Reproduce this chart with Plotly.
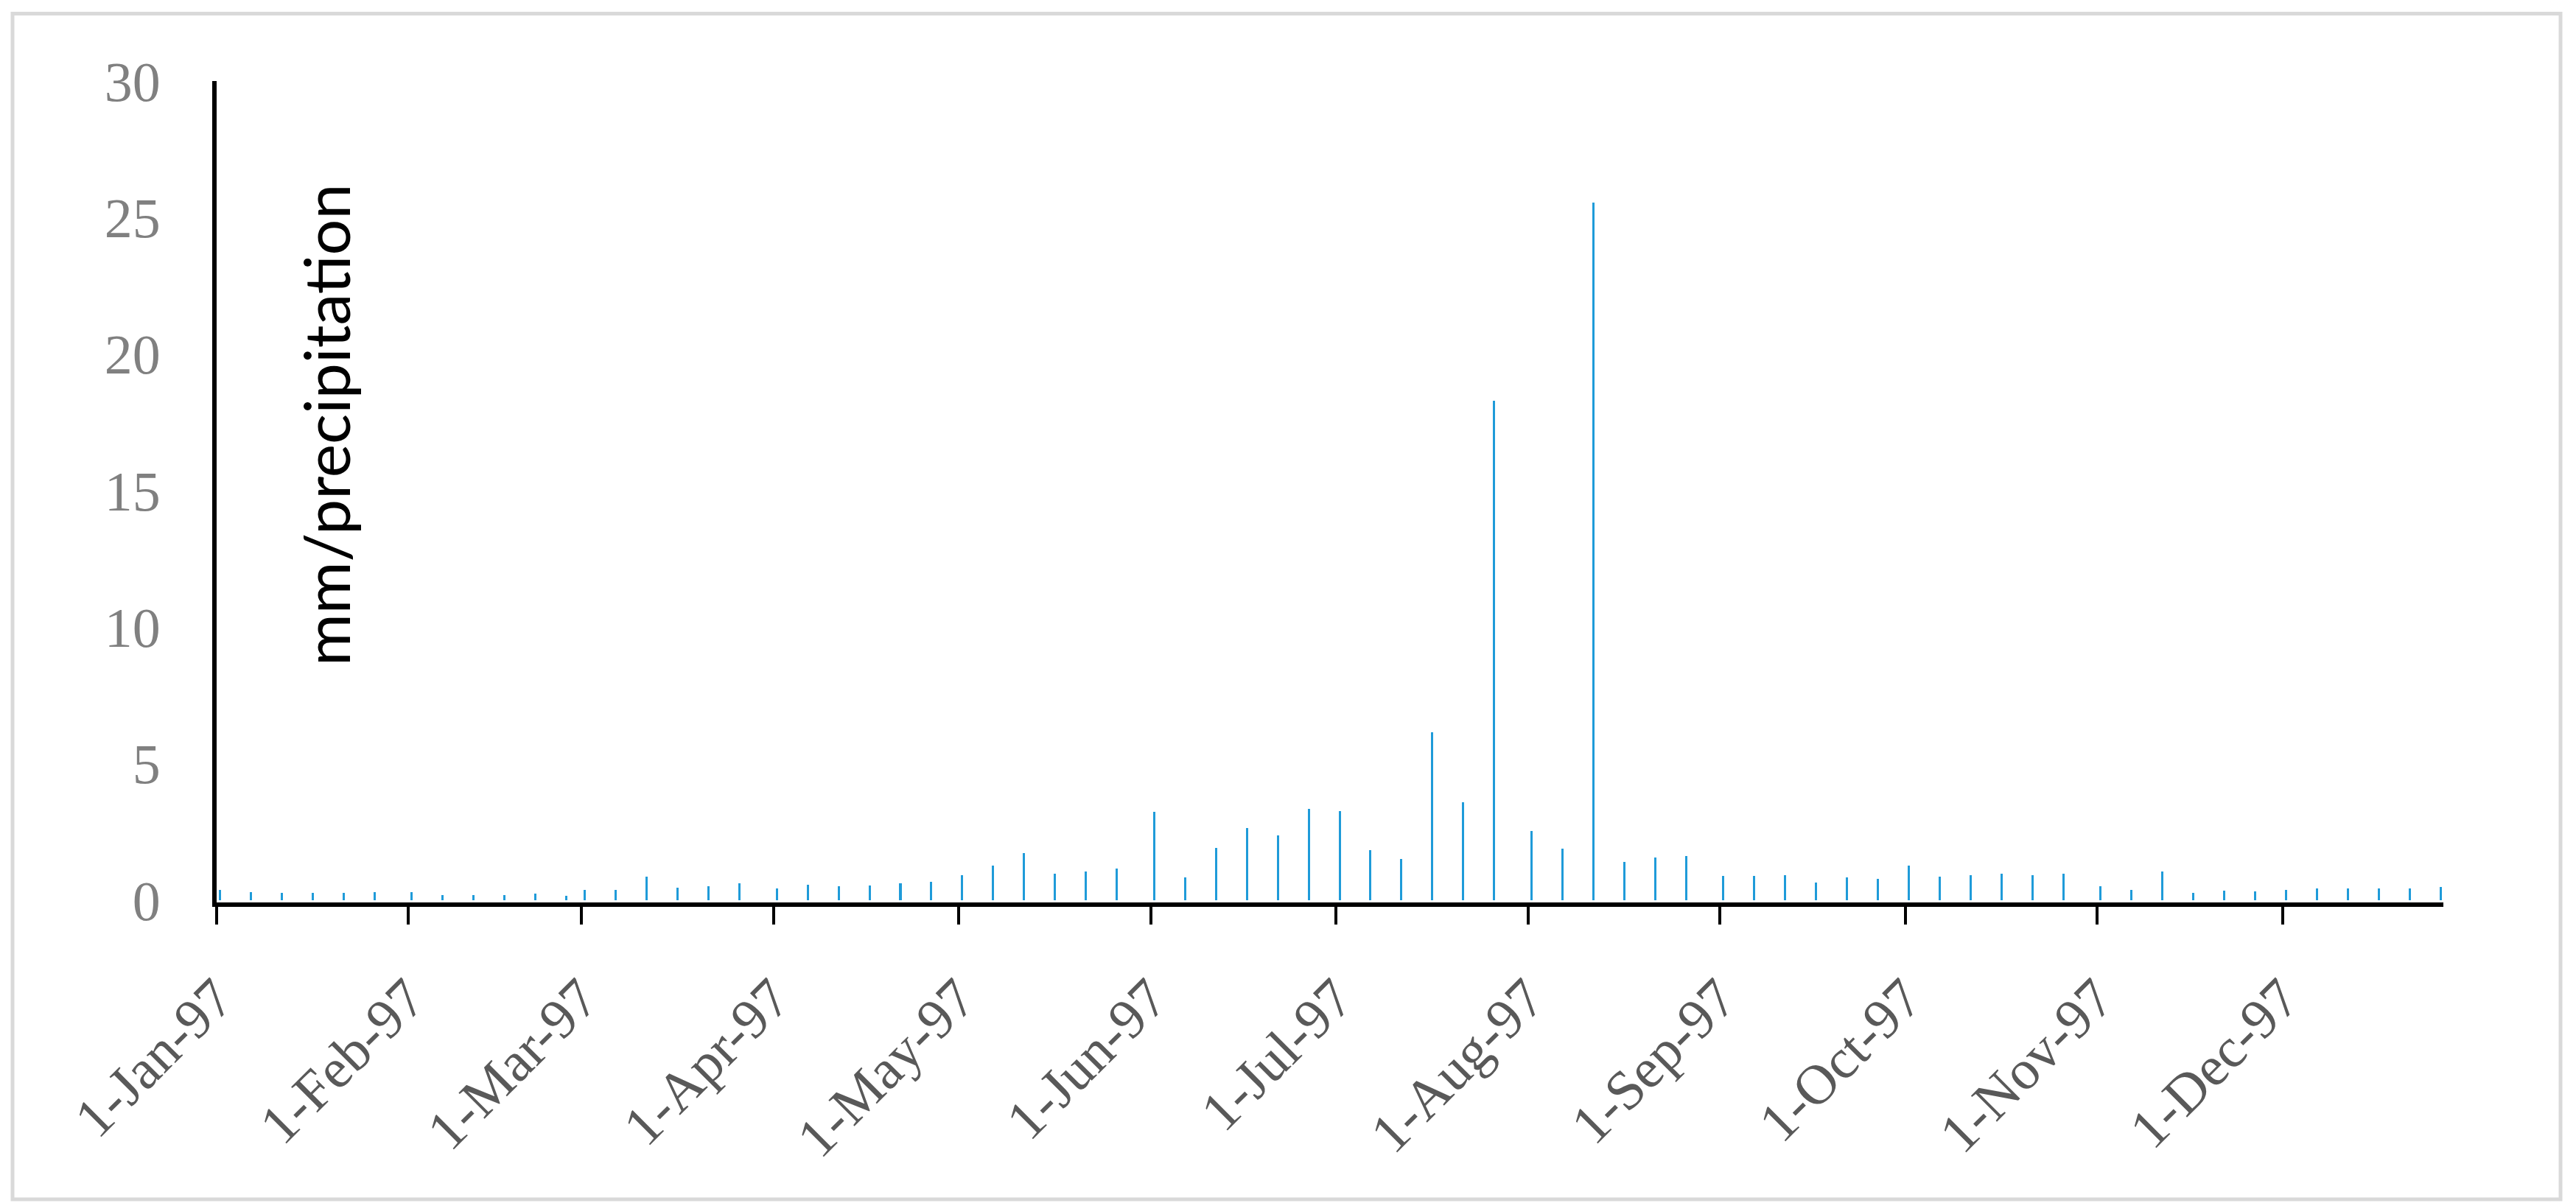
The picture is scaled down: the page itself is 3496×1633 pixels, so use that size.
import plotly.graph_objects as go

dates = [
    "1997-01-01", "1997-01-06", "1997-01-11", "1997-01-16", "1997-01-21", "1997-01-26",
    "1997-02-01", "1997-02-06", "1997-02-11", "1997-02-16", "1997-02-21", "1997-02-26",
    "1997-03-01", "1997-03-06", "1997-03-11", "1997-03-16", "1997-03-21", "1997-03-26",
    "1997-04-01", "1997-04-06", "1997-04-11", "1997-04-16", "1997-04-21", "1997-04-26",
    "1997-05-01", "1997-05-06", "1997-05-11", "1997-05-16", "1997-05-21", "1997-05-26",
    "1997-06-01", "1997-06-06", "1997-06-11", "1997-06-16", "1997-06-21", "1997-06-26",
    "1997-07-01", "1997-07-06", "1997-07-11", "1997-07-16", "1997-07-21", "1997-07-26",
    "1997-08-01", "1997-08-06", "1997-08-11", "1997-08-16", "1997-08-21", "1997-08-26",
    "1997-09-01", "1997-09-06", "1997-09-11", "1997-09-16", "1997-09-21", "1997-09-26",
    "1997-10-01", "1997-10-06", "1997-10-11", "1997-10-16", "1997-10-21", "1997-10-26",
    "1997-11-01", "1997-11-06", "1997-11-11", "1997-11-16", "1997-11-21", "1997-11-26",
    "1997-12-01", "1997-12-06", "1997-12-11", "1997-12-16", "1997-12-21", "1997-12-26",
]

precip_mm = [
    0.37, 0.30, 0.27, 0.27, 0.27, 0.30,
    0.29, 0.19, 0.19, 0.19, 0.24, 0.16,
    0.37, 0.39, 0.86, 0.45, 0.51, 0.62,
    0.43, 0.56, 0.50, 0.54, 0.62, 0.67,
    0.91, 1.26, 1.74, 0.98, 1.04, 1.15,
    3.24, 0.83, 1.92, 2.65, 2.38, 3.34,
    3.27, 1.84, 1.52, 6.14, 3.59, 18.28,
    2.54, 1.88, 25.55, 1.41, 1.57, 1.61,
    0.88, 0.90, 0.91, 0.64, 0.83, 0.77,
    1.28, 0.86, 0.91, 0.97, 0.93, 0.97,
    0.51, 0.37, 1.06, 0.27, 0.35, 0.32,
    0.38, 0.43, 0.42, 0.42, 0.42, 0.48,
]

tick_dates = [
    "1997-01-01", "1997-02-01", "1997-03-01", "1997-04-01", "1997-05-01", "1997-06-01",
    "1997-07-01", "1997-08-01", "1997-09-01", "1997-10-01", "1997-11-01", "1997-12-01",
]
tick_labels = [
    "1-Jan-97", "1-Feb-97", "1-Mar-97", "1-Apr-97", "1-May-97", "1-Jun-97",
    "1-Jul-97", "1-Aug-97", "1-Sep-97", "1-Oct-97", "1-Nov-97", "1-Dec-97",
]
y_ticks = [0, 5, 10, 15, 20, 25, 30]

y_title = "mm/precipitation"

DAY_MS = 86400000
OFF = 8  # page body margin
W, H = 3496 - OFF, 1633 - OFF
# plot area edges (figure px)
L, R, T, B = 294 - OFF, 3316 - OFF, 110 - OFF, 1225 - OFF
PW, PH = R - L, B - T


def px_x(page_px):
    return (page_px - OFF - L) / PW


def px_y(page_py):
    return (B - (page_py - OFF)) / PH


fig = go.Figure()
fig.add_trace(go.Bar(
    x=dates,
    y=precip_mm,
    width=0.36 * DAY_MS,
    offset=0.37 * DAY_MS,
    marker=dict(color="#1f9bd9", line=dict(width=0)),
    showlegend=False,
))

fig.update_layout(
    width=W, height=H,
    margin=dict(l=L, r=W - R, t=T, b=H - B, pad=0),
    paper_bgcolor="white",
    plot_bgcolor="white",
    bargap=0,
    xaxis=dict(
        type="date",
        range=["1997-01-01", "1997-12-27"],
        tickmode="array",
        tickvals=tick_dates,
        ticktext=tick_labels,
        tickangle=-45,
        ticks="outside",
        ticklen=24,
        tickwidth=4,
        tickcolor="black",
        ticklabelstandoff=25,
        showline=True,
        linecolor="black",
        linewidth=6,
        showgrid=False,
        zeroline=False,
        tickfont=dict(family="Liberation Serif", size=76, color="#595959"),
    ),
    yaxis=dict(
        range=[-0.0805, 30],
        tickmode="array",
        tickvals=y_ticks,
        ticks="",
        showline=True,
        linecolor="black",
        linewidth=6,
        showgrid=False,
        zeroline=False,
        ticklabelstandoff=55,
        tickfont=dict(family="Liberation Serif", size=76, color="#808080"),
    ),
    annotations=[dict(
        text=y_title,
        textangle=-90,
        xref="paper", yref="paper",
        x=px_x(441), y=px_y(577),
        xanchor="center", yanchor="middle",
        showarrow=False,
        font=dict(family="Lato", size=86, color="black"),
    )],
    shapes=[dict(
        type="rect",
        xref="paper", yref="paper",
        x0=px_x(17), x1=px_x(3475),
        y0=px_y(1628), y1=px_y(18.5),
        line=dict(color="#d9d9d9", width=5),
        fillcolor="rgba(0,0,0,0)",
        layer="below",
    )],
)

fig.write_html("out.html")
